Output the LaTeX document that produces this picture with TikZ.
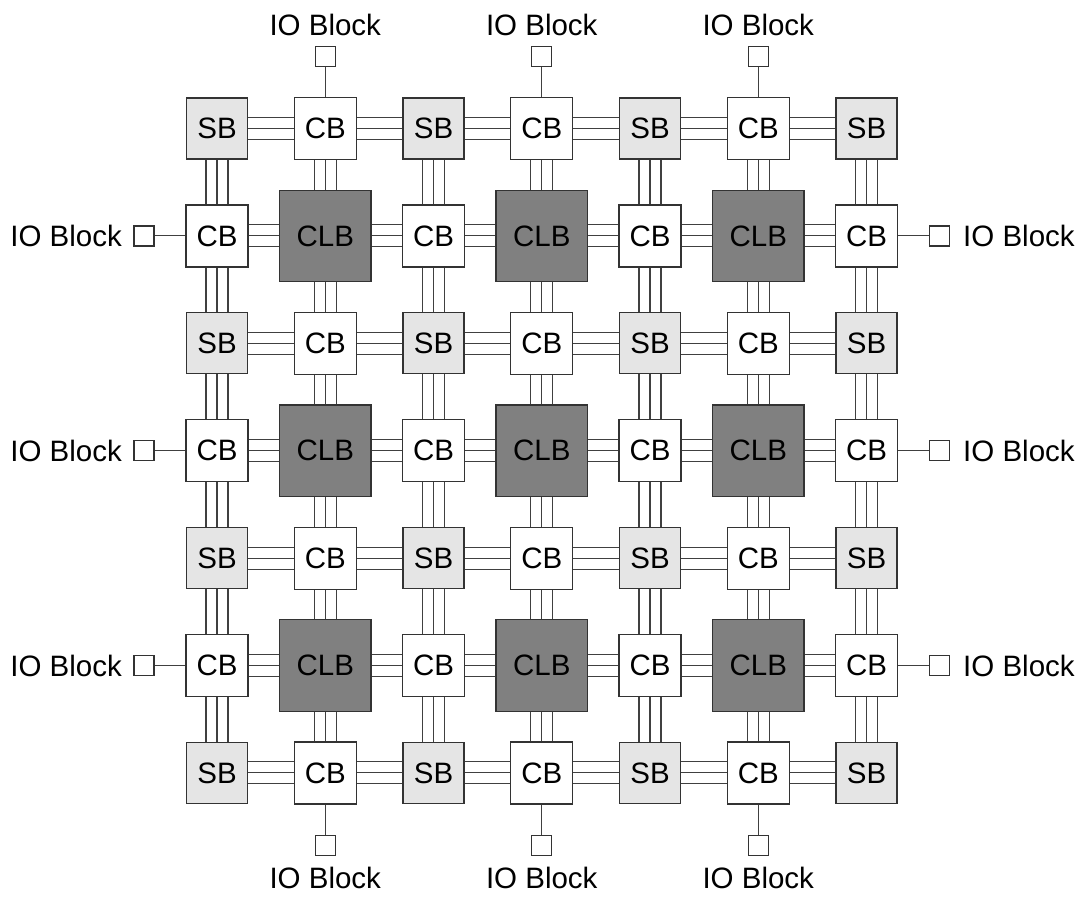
\documentclass[tikz,border=0pt]{standalone}
\usepackage{fontspec}
\setmainfont{Liberation Sans}

\tikzset{
    block/.style={draw=black!80, line width=1.2pt, inner sep=0pt, font=\fontsize{29.5}{34}\selectfont},
    sb/.style={block, fill=black!10, minimum size=61pt},
    cb/.style={block, fill=white, minimum size=62pt},
    clb/.style={block, fill=black!50, minimum size=91.5pt},
    io/.style={draw=black!80, line width=1.2pt, fill=white, minimum size=20pt, inner sep=0pt},
    iolabel/.style={inner sep=0pt, font=\fontsize{29.5}{34}\selectfont},
    wire/.style={draw=black!75, line width=1.1pt}
}

\begin{document}
\begin{tikzpicture}[x=1pt, y=-1pt]
    \useasboundingbox (0,0) rectangle (1081,897);

    % grid of switch, connection and logic blocks
    \foreach \r in {1,...,7} {
        \foreach \c in {1,...,7} {
            \pgfmathtruncatemacro\kind{mod(\r,2)+mod(\c,2)}
            \ifcase\kind
                \node[clb] (b-\r-\c) at ({217+(\c-1)*108.25},{128.5+(\r-1)*107.4}) {CLB};
            \or
                \node[cb] (b-\r-\c) at ({217+(\c-1)*108.25},{128.5+(\r-1)*107.4}) {CB};
            \or
                \node[sb] (b-\r-\c) at ({217+(\c-1)*108.25},{128.5+(\r-1)*107.4}) {SB};
            \fi
        }
    }

    % routing tracks, three wires between neighbours
    \foreach \r in {1,...,7} {
        \foreach \c in {1,...,6} {
            \pgfmathtruncatemacro\n{\c+1}
            \foreach \s in {-11,0,11} {
                \draw[wire] ([yshift=\s pt]b-\r-\c.east) -- ([yshift=\s pt]b-\r-\n.west);
                \draw[wire] ([xshift=\s pt]b-\c-\r.south) -- ([xshift=\s pt]b-\n-\r.north);
            }
        }
    }

    % io blocks on top and bottom
    \foreach \c in {2,4,6} {
        \node[io] (io-t-\c) at ({217+(\c-1)*108.25},56.7) {};
        \node[iolabel, anchor=base] (lbl-t-\c) at ({217+(\c-1)*108.25},35) {IO Block};
        \draw[wire] (io-t-\c) -- (b-1-\c);
        \node[io] (io-b-\c) at ({217+(\c-1)*108.25},845.3) {};
        \node[iolabel, anchor=base] (lbl-b-\c) at ({217+(\c-1)*108.25},888) {IO Block};
        \draw[wire] (io-b-\c) -- (b-7-\c);
    }

    % io blocks on left and right
    \foreach \r in {2,4,6} {
        \node[io] (io-l-\r) at (144,{128.5+(\r-1)*107.4}) {};
        \node[iolabel, anchor=base east] (lbl-l-\r) at (122,{139+(\r-1)*107.4}) {IO Block};
        \draw[wire] (io-l-\r) -- (b-\r-1);
        \node[io] (io-r-\r) at (939.3,{128.5+(\r-1)*107.4}) {};
        \node[iolabel, anchor=base west] (lbl-r-\r) at (963,{139+(\r-1)*107.4}) {IO Block};
        \draw[wire] (io-r-\r) -- (b-\r-7);
    }
\end{tikzpicture}
\end{document}
